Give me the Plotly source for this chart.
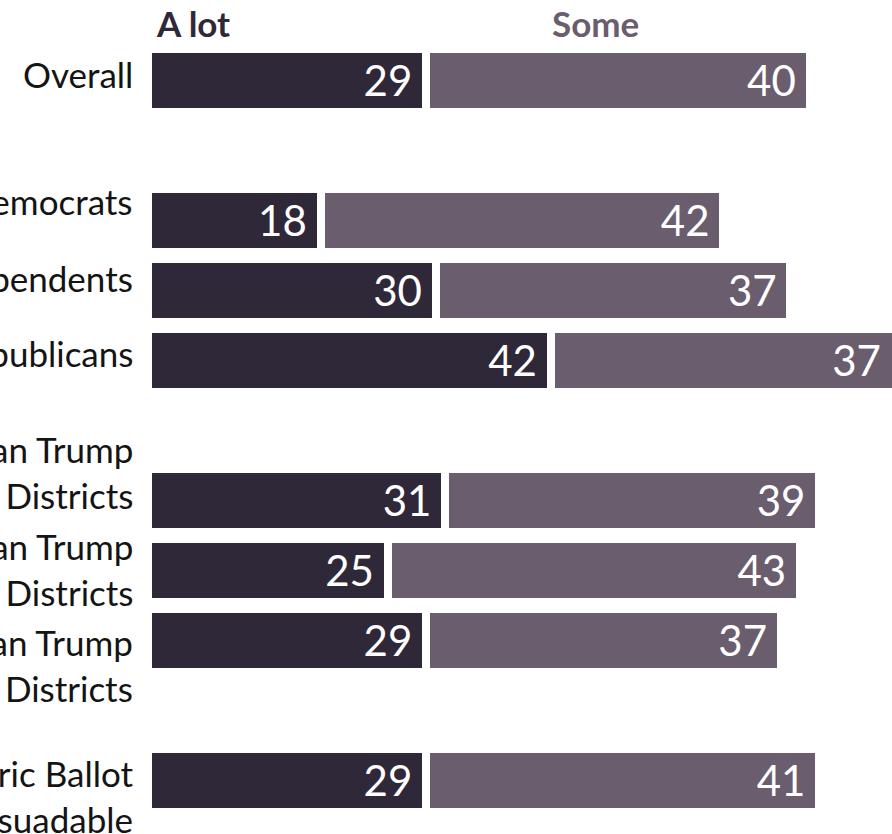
import plotly.graph_objects as go

# Row labels (blank slots separate the groups)
groups = [
    "Overall",
    "",
    "Democrats",
    "Independents",
    "Republicans",
    "",
    "Heavy Lean Trump<br>Districts",
    "Lean Trump<br>Districts",
    "Slight Lean Trump<br>Districts",
    "",
    "Generic Ballot<br>Persuadable",
]
a_lot = [29, None, 18, 30, 42, None, 31, 25, 29, None, 29]
some = [40, None, 42, 37, 37, None, 39, 43, 37, None, 41]

# vertical nudge (px) of each row label relative to its bar
label_shift = [6, 0, 19, 12, 7, 0, 28, 1, -25, 0, -16]

DARK = "#2f2838"
MID = "#6a5d6e"
FONT = "Lato, 'Noto Sans', sans-serif"
X_MAX = 77.6
NBSP = "\u00a0"  # breathing room after each value inside its bar


def bar_text(values, base=None):
    out = []
    for i, v in enumerate(values):
        if v is None:
            out.append("")
            continue
        end = v + (base[i] if base and base[i] is not None else 0)
        # bars running past the right edge keep their value in view
        pad = NBSP * (2 if end > X_MAX else 1)
        out.append(f"{v}{pad}")
    return out


slots = list(range(len(groups)))
fig = go.Figure()

fig.add_trace(go.Bar(
    y=slots, x=a_lot, orientation="h", width=0.9,
    marker=dict(color=DARK, line=dict(color="white", width=8)),
    text=bar_text(a_lot),
    textposition="inside", insidetextanchor="end",
    textfont=dict(color="white", size=42, family=FONT),
    name="A lot", hoverinfo="skip",
))
fig.add_trace(go.Bar(
    y=slots, x=some, orientation="h", width=0.9,
    marker=dict(color=MID, line=dict(color="white", width=8)),
    text=bar_text(some, a_lot),
    textposition="inside", insidetextanchor="end",
    textfont=dict(color="white", size=42, family=FONT),
    name="Some", hoverinfo="skip",
))

annotations = []
for s, lab, sh in zip(slots, groups, label_shift):
    if not lab:
        continue
    annotations.append(dict(
        x=0, xref="paper", xanchor="right", xshift=-13,
        y=s, yref="y", yanchor="middle", yshift=sh,
        text=lab, showarrow=False, align="right",
        font=dict(size=35, color="#141414", family=FONT),
    ))

annotations.append(dict(
    x=0, xref="paper", xanchor="left", xshift=6,
    y=1.029, yref="paper", yanchor="middle",
    text="<b>A lot</b>", showarrow=False,
    font=dict(size=35, color=DARK, family=FONT),
))
annotations.append(dict(
    x=0.540, xref="paper", xanchor="left",
    y=1.029, yref="paper", yanchor="middle",
    text="<b>Some</b>", showarrow=False,
    font=dict(size=35, color=MID, family=FONT),
))

fig.update_layout(
    width=892, height=834,
    margin=dict(l=148, r=0, t=45, b=19),
    barmode="stack",
    showlegend=False,
    paper_bgcolor="white", plot_bgcolor="white",
    xaxis=dict(range=[0, X_MAX], visible=False, fixedrange=True),
    yaxis=dict(range=[10.5, -0.5], visible=False, fixedrange=True),
    annotations=annotations,
    uniformtext=dict(minsize=42, mode="show"),
)

fig.write_html("out.html")
